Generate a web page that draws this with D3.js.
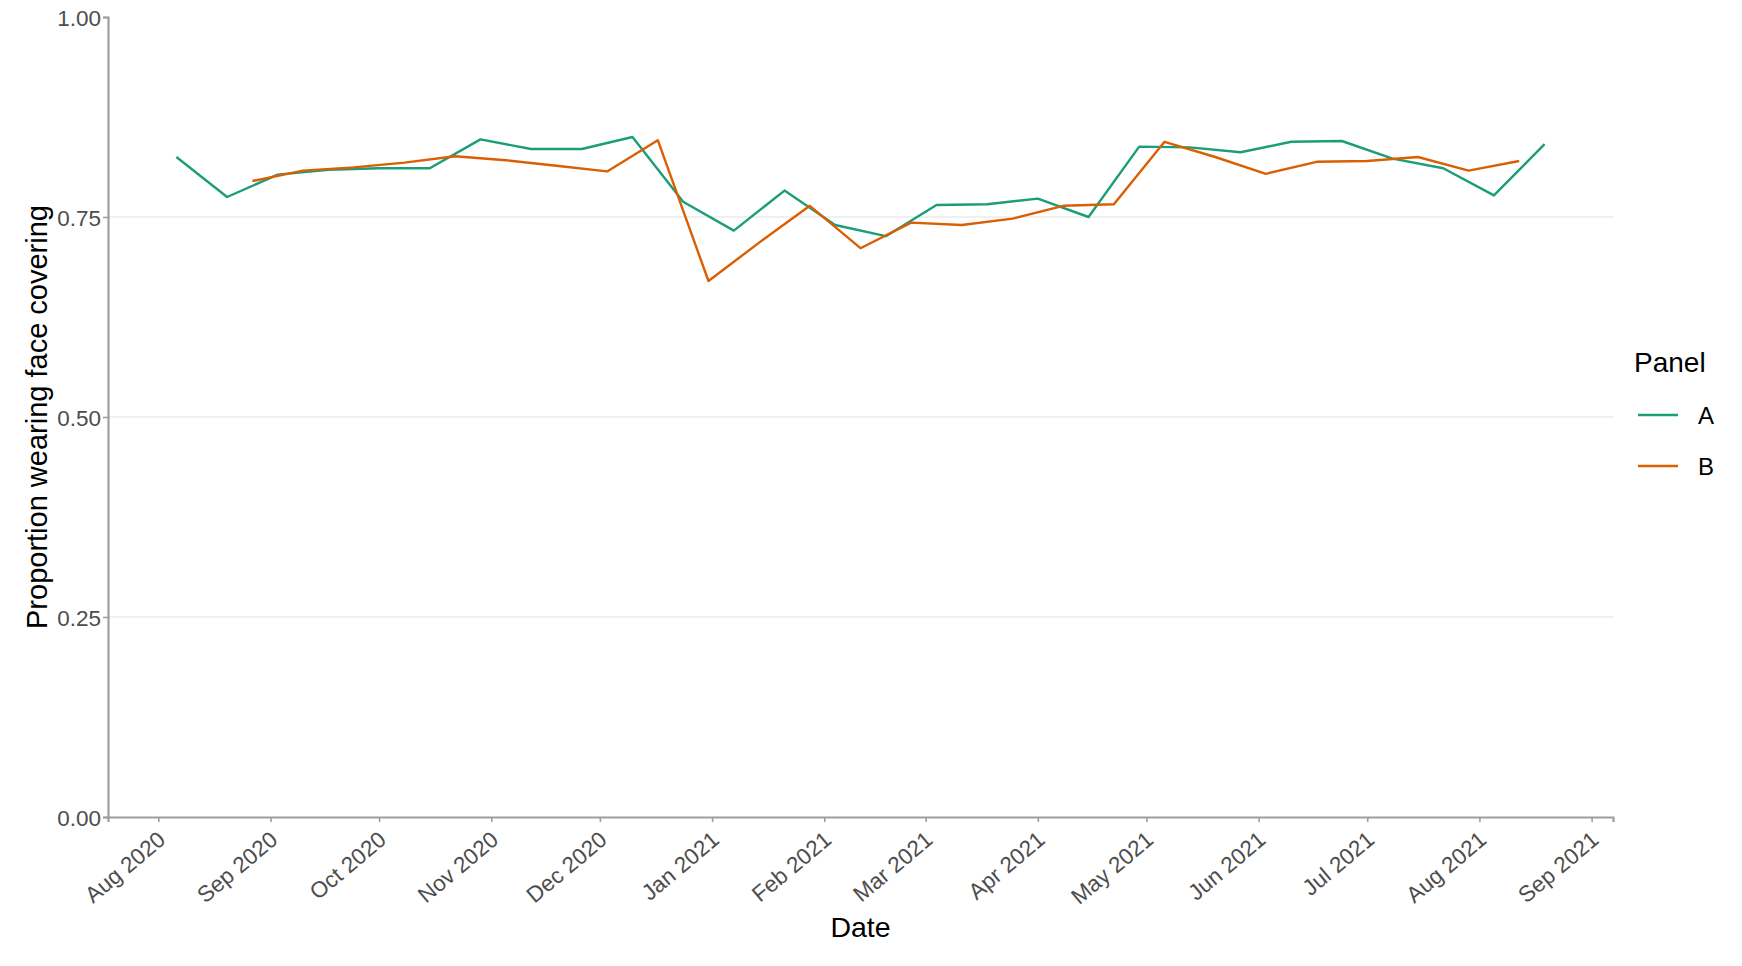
<!DOCTYPE html>
<html>
<head>
<meta charset="utf-8">
<script src="https://cdn.jsdelivr.net/npm/d3@7"></script>
<style>
  body { margin: 0; background: #fff; }
  text { font-family: "Liberation Sans", Arial, sans-serif; }
</style>
</head>
<body>
<div id="chart"></div>
<script>
// fortnightly survey waves, panel A
const datesA = ["2020-08-06","2020-08-20","2020-09-03","2020-09-17","2020-10-01","2020-10-15","2020-10-29",
  "2020-11-12","2020-11-26","2020-12-10","2020-12-24","2021-01-07","2021-01-21","2021-02-04","2021-02-18",
  "2021-03-04","2021-03-18","2021-04-01","2021-04-15","2021-04-29","2021-05-13","2021-05-27","2021-06-10",
  "2021-06-24","2021-07-08","2021-07-22","2021-08-05","2021-08-19"];
const valuesA = [0.825,0.775,0.803,0.809,0.811,0.811,0.847,0.835,0.835,0.850,0.769,0.733,0.783,0.740,0.726,
  0.765,0.766,0.773,0.750,0.838,0.837,0.831,0.844,0.845,0.823,0.811,0.777,0.841];

// panel B, offset by a week
const datesB = ["2020-08-27","2020-09-10","2020-09-24","2020-10-08","2020-10-22","2020-11-05","2020-11-19",
  "2020-12-03","2020-12-17","2020-12-31","2021-01-14","2021-01-28","2021-02-11","2021-02-25","2021-03-11",
  "2021-03-25","2021-04-08","2021-04-22","2021-05-06","2021-05-20","2021-06-03","2021-06-17","2021-07-01",
  "2021-07-15","2021-07-29","2021-08-12"];
const valuesB = [0.795,0.808,0.812,0.818,0.826,0.821,0.814,0.807,0.846,0.670,0.718,0.764,0.711,0.743,0.740,
  0.748,0.764,0.766,0.844,0.825,0.804,0.819,0.820,0.825,0.808,0.820];

const panels = ["A", "B"];
const panelColors = ["#1b9e77", "#d95f02"];
const yTicks = [0, 0.25, 0.5, 0.75, 1];

const W = 1742, H = 966;
const margin = { top: 17, right: 129, bottom: 149, left: 108 };

const parse = d3.utcParse("%Y-%m-%d");
const series = [
  { name: "A", values: datesA.map((d, i) => ({ date: parse(d), value: valuesA[i] })) },
  { name: "B", values: datesB.map((d, i) => ({ date: parse(d), value: valuesB[i] })) }
];

const svg = d3.select("#chart").append("svg")
  .attr("width", W)
  .attr("height", H);

// ggplot style 5% expansion on the date axis
const allDates = series.flatMap(s => s.values.map(v => +v.date));
const [dMin, dMax] = d3.extent(allDates);
const pad = (dMax - dMin) * 0.05;

const x = d3.scaleUtc()
  .domain([new Date(dMin - pad), new Date(dMax + pad)])
  .range([margin.left, W - margin.right]);
const y = d3.scaleLinear()
  .domain([0, 1])
  .range([H - margin.bottom, margin.top]);
const color = d3.scaleOrdinal().domain(panels).range(panelColors);

// gridlines
svg.append("g")
  .selectAll("line")
  .data(yTicks.filter(t => t > 0 && t < 1))
  .enter().append("line")
  .attr("x1", margin.left)
  .attr("x2", W - margin.right)
  .attr("y1", d => y(d))
  .attr("y2", d => y(d))
  .attr("stroke", "#ebebeb")
  .attr("stroke-width", 1.6);

// lines
const line = d3.line()
  .x(d => x(d.date))
  .y(d => y(d.value));

svg.selectAll(".series")
  .data(series)
  .enter().append("path")
  .attr("class", "series")
  .attr("d", d => line(d.values))
  .attr("fill", "none")
  .attr("stroke", d => color(d.name))
  .attr("stroke-width", 2.4)
  .attr("stroke-linejoin", "round");

// axes
const xAxis = svg.append("g")
  .attr("transform", "translate(0," + (H - margin.bottom) + ")")
  .call(d3.axisBottom(x)
    .ticks(d3.utcMonth.every(1))
    .tickFormat(d3.utcFormat("%b %Y"))
    .tickSizeOuter(0)
    .tickSize(5));
xAxis.select(".domain").attr("stroke", "#9e9e9e").attr("stroke-width", 2.2);
xAxis.selectAll(".tick line").attr("stroke", "#9e9e9e").attr("stroke-width", 1.6);
xAxis.selectAll(".tick text")
  .attr("fill", "#4d4d4d")
  .style("font-size", "22.5px")
  .attr("text-anchor", "end")
  .attr("y", 0)
  .attr("dy", 0)
  .attr("transform", "translate(8,25) rotate(-40)");

const yAxis = svg.append("g")
  .attr("transform", "translate(" + margin.left + ",0)")
  .call(d3.axisLeft(y)
    .tickValues(yTicks)
    .tickFormat(d3.format(".2f"))
    .tickSizeOuter(0)
    .tickSize(5));
yAxis.select(".domain").attr("stroke", "#9e9e9e").attr("stroke-width", 2.2);
yAxis.selectAll(".tick line").attr("stroke", "#9e9e9e").attr("stroke-width", 1.6);
yAxis.selectAll(".tick text")
  .attr("fill", "#4d4d4d")
  .style("font-size", "22.5px")
  .attr("x", -7)
  .attr("dy", "0.36em");

// axis titles
svg.append("text")
  .attr("x", (margin.left + W - margin.right) / 2)
  .attr("y", 937)
  .attr("text-anchor", "middle")
  .style("font-size", "28.5px")
  .attr("fill", "#000")
  .text("Date");

svg.append("text")
  .attr("transform", "translate(47," + ((margin.top + H - margin.bottom) / 2) + ") rotate(-90)")
  .attr("text-anchor", "middle")
  .style("font-size", "29px")
  .attr("fill", "#000")
  .text("Proportion wearing face covering");

// legend
const legend = svg.append("g").attr("transform", "translate(1634,0)");
legend.append("text")
  .attr("x", 0)
  .attr("y", 372)
  .style("font-size", "28px")
  .attr("fill", "#000")
  .text("Panel");

const item = legend.selectAll(".item")
  .data(panels)
  .enter().append("g")
  .attr("class", "item")
  .attr("transform", (d, i) => "translate(0," + (415 + i * 51) + ")");
item.append("line")
  .attr("x1", 4).attr("x2", 44)
  .attr("stroke", d => color(d))
  .attr("stroke-width", 2.4);
item.append("text")
  .attr("x", 64)
  .attr("dy", "0.36em")
  .style("font-size", "24px")
  .attr("fill", "#000")
  .text(d => d);
</script>
</body>
</html>
